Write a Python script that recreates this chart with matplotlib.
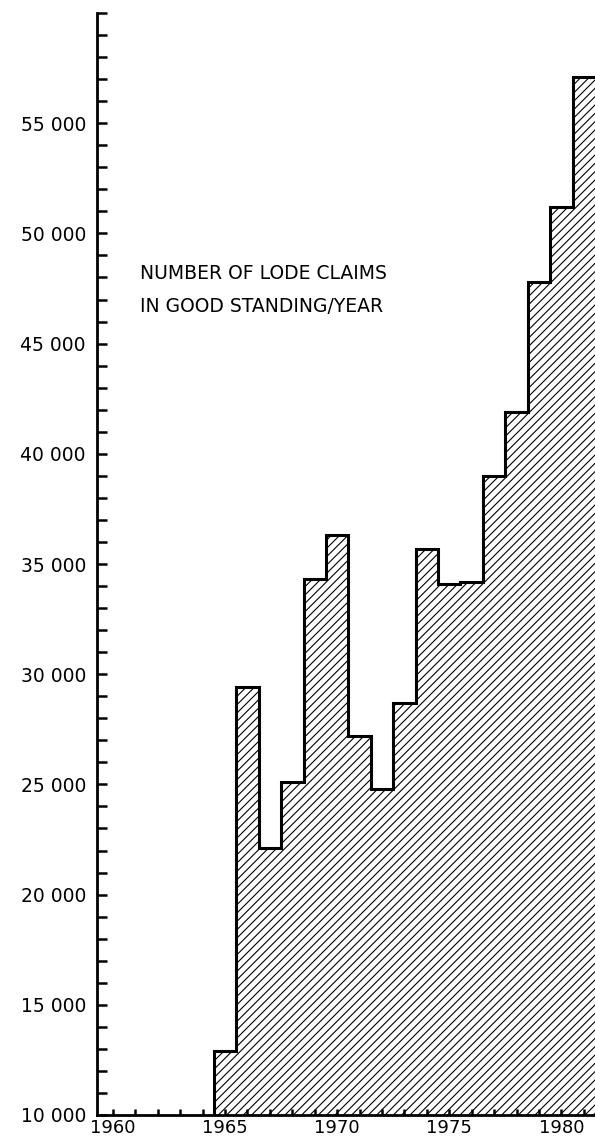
import numpy as np
import matplotlib
matplotlib.use('Agg')
import matplotlib.pyplot as plt
from matplotlib.ticker import MultipleLocator, FuncFormatter

# lode claims in good standing
years = [1965, 1966, 1967, 1968, 1969, 1970, 1971, 1972, 1973,
         1974, 1975, 1976, 1977, 1978, 1979, 1980, 1981]
claims = [12900, 29400, 22100, 25100, 34300, 36300, 27200, 24800, 28700,
          35700, 34100, 34200, 39000, 41900, 47800, 51200, 57100]
x_labels = [1960, 1965, 1970, 1975, 1980]
y_labels = [10000, 15000, 20000, 25000, 30000, 35000, 40000, 45000, 50000, 55000]
base = 10000

plt.rcParams['hatch.linewidth'] = 0.8

fig = plt.figure(figsize=(5.95, 11.38), dpi=100)
ax = fig.add_axes([97/595, 23/1138, 498/595, 1102/1138])

edges = np.r_[np.array(years) - 0.5, years[-1] + 0.5]
vals = np.array(claims)

# hatched area
ax.fill_between(edges, np.r_[vals, vals[-1]], base, step='post',
                facecolor='none', edgecolor='black', hatch='////', linewidth=0)
# outline
xs = np.r_[edges[0], edges]
ys = np.r_[base, vals, vals[-1]]
ax.step(xs, ys, where='post', color='black', linewidth=2.2, solid_joinstyle='miter')

ax.set_xlim(1959.29, 1981.5)
ax.set_ylim(10000, 60000)

for s in ['top', 'right']:
    ax.spines[s].set_visible(False)
for s in ['left', 'bottom']:
    ax.spines[s].set_linewidth(2.0)

ax.set_xticks(x_labels)
ax.xaxis.set_minor_locator(MultipleLocator(1))
ax.set_yticks(y_labels)
ax.yaxis.set_minor_locator(MultipleLocator(1000))
ax.yaxis.set_major_formatter(FuncFormatter(lambda v, p: f'{int(v):,}'.replace(',', ' ')))

ax.tick_params(axis='y', which='both', direction='in', length=7, width=1.8,
               labelsize=13.5, pad=8)
ax.tick_params(axis='x', which='both', direction='in', length=4.5, width=1.8,
               labelsize=13, pad=3)

ax.text(1961.2, 48200, 'NUMBER OF LODE CLAIMS', fontsize=13.5, va='center', ha='left')
ax.text(1961.2, 46700, 'IN GOOD STANDING/YEAR', fontsize=13.5, va='center', ha='left')

plt.savefig('out.png', dpi=100)
